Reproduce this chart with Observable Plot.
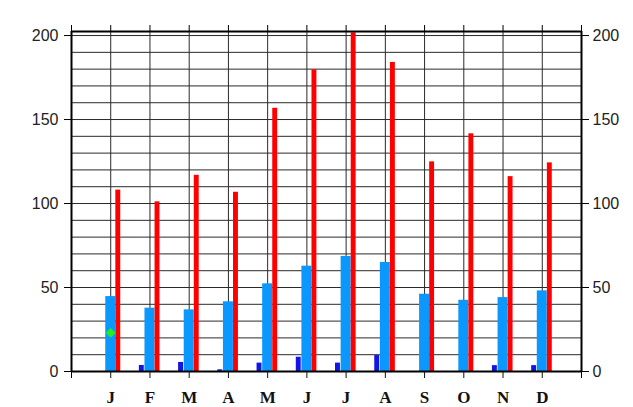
<!DOCTYPE html>
<html>
<head>
<meta charset="utf-8">
<script src="https://cdn.jsdelivr.net/npm/d3@7"></script>
<script src="https://cdn.jsdelivr.net/npm/@observablehq/plot@0.6"></script>
<style>
  html, body { margin: 0; padding: 0; background: #fff; }
  #chart svg { display: block; }
</style>
</head>
<body>
<div id="chart"></div>
<script>
const months = ["J","F","M","A","M","J","J","A","S","O","N","D"];
const darkBlue  = [0, 3.6, 5.4, 1, 5, 8.5, 5, 9.5, 0, 0, 3.5, 3.5];
const lightBlue = [44.6, 37.7, 36.7, 41.5, 52.2, 62.7, 68.5, 64.9, 46, 42.4, 44, 48];
const red       = [108, 101, 116.8, 106.7, 156.7, 179.6, 201.6, 184, 124.8, 141.5, 116, 124.2];
const greenPoint = [{m: 1, v: 23}];
const yTicks = [0, 50, 100, 150, 200];
const yMax = 202.4;

const idx = months.map((_, i) => i + 1);
const rows = (vals) => vals.map((v, i) => ({m: i + 1, v}));

const chart = Plot.plot({
  width: 633,
  height: 407,
  marginLeft: 71,
  marginRight: 52,
  marginTop: 31,
  marginBottom: 36,
  style: {fontFamily: "Liberation Sans, Arial, sans-serif", background: "#fff"},
  x: {domain: [0, 13], axis: null},
  y: {domain: [0, yMax], axis: null},
  marks: [
    Plot.ruleY(d3.range(0, 201, 10), {stroke: "#2a2a2a", strokeWidth: 1}),
    Plot.ruleX(idx, {y1: 0, y2: yMax, stroke: "#2a2a2a", strokeWidth: 1}),
    Plot.rectY(rows(darkBlue), {x1: d => d.m - 0.27, x2: d => d.m - 0.145, y: "v", fill: "#1414e6"}),
    Plot.rectY(rows(lightBlue), {x1: d => d.m - 0.127, x2: d => d.m + 0.127, y: "v", fill: "#0a98ff"}),
    Plot.rectY(rows(red), {x1: d => d.m + 0.13, x2: d => d.m + 0.255, y: "v", fill: "#ff0000"}),
    Plot.dot(greenPoint, {x: "m", y: "v", symbol: "diamond2", r: 4, fill: "#22ee22", stroke: "#22ee22", strokeWidth: 1}),
    Plot.ruleX([0, 13], {stroke: "#000", strokeWidth: 2}),
    Plot.ruleY([0, yMax], {stroke: "#000", strokeWidth: 2}),
    Plot.axisY({anchor: "left", label: null, ticks: yTicks, tickSize: 7, tickPadding: 6, fontSize: 16, stroke: "#000", color: "#222"}),
    Plot.axisY({anchor: "right", label: null, ticks: yTicks, tickSize: 7, tickPadding: 4, fontSize: 16, stroke: "#000", color: "#222"}),
    Plot.axisX({anchor: "bottom", label: null, ticks: idx, tickSize: 7, tickPadding: 12, tickFormat: i => months[i - 1],
      fontSize: 17, fontWeight: "bold", fontFamily: "Liberation Serif, Times New Roman, serif", color: "#111"}),
    Plot.axisX({anchor: "bottom", label: null, ticks: [0, 13], tickSize: 7, tickFormat: () => ""}),
    Plot.axisX({anchor: "top", label: null, ticks: d3.range(0, 14), tickSize: 7, tickFormat: () => ""})
  ]
});
document.getElementById("chart").appendChild(chart);
</script>
</body>
</html>
